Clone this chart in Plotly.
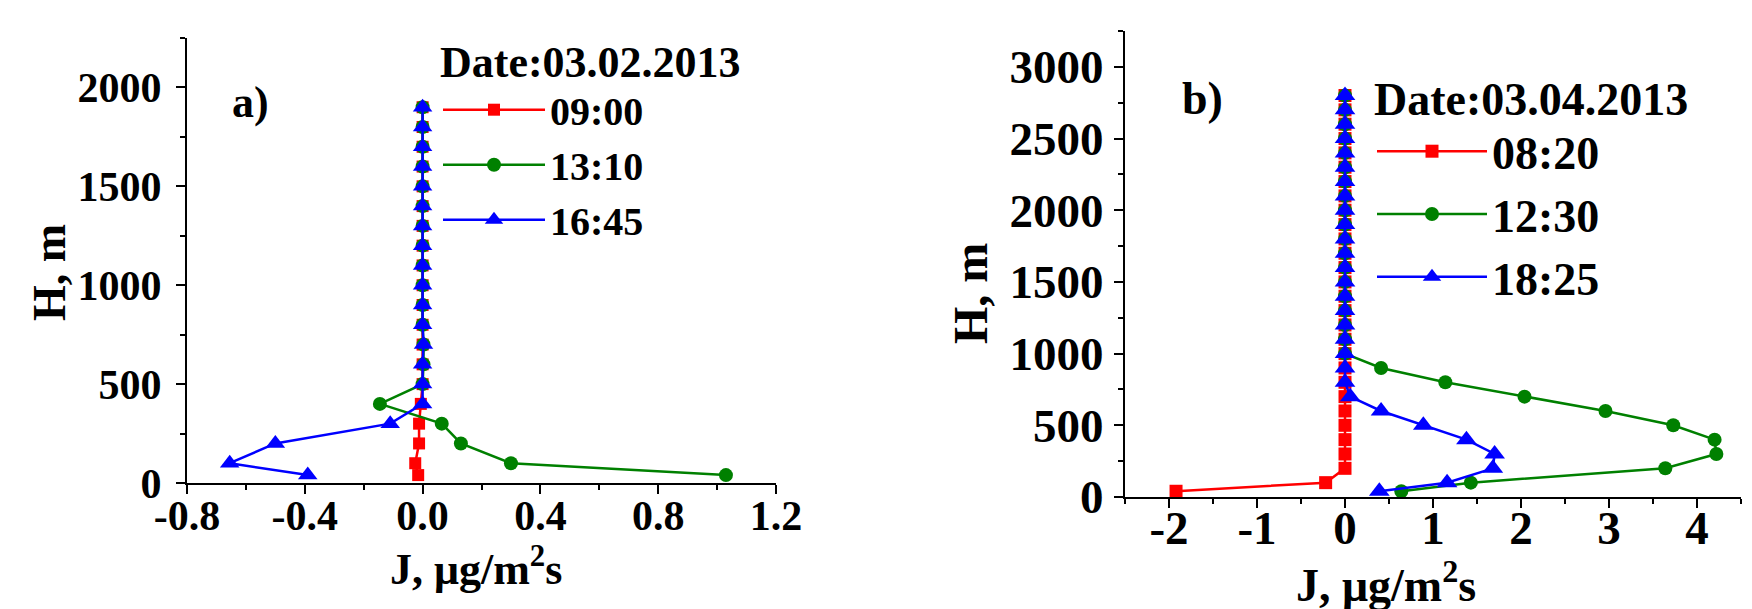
import plotly.graph_objects as go

# ---------------- data: panel a) 03.02.2013 ----------------
H_a = [40, 100, 200, 300, 400, 500, 600, 700, 800, 900, 1000,
       1100, 1200, 1300, 1400, 1500, 1600, 1700, 1800, 1900]
J_a_0900 = [-0.015, -0.025, -0.012, -0.012, -0.006, 0.0, 0.0, 0.0, 0.0, 0.0, 0.0,
            0.0, 0.0, 0.0, 0.0, 0.0, 0.0, 0.0, 0.0, 0.0]
J_a_1310 = [1.03, 0.30, 0.13, 0.065, -0.145, 0.0, 0.003, 0.003, 0.0, 0.0, 0.0,
            0.0, 0.0, 0.0, 0.0, 0.0, 0.0, 0.0, 0.0, 0.0]
J_a_1645 = [-0.39, -0.655, -0.50, -0.11, 0.0, 0.0, 0.0, 0.003, 0.0, 0.0, 0.0,
            0.0, 0.0, 0.0, 0.0, 0.0, 0.0, 0.0, 0.0, 0.0]

# ---------------- data: panel b) 03.04.2013 ----------------
H_b = [40, 100, 200, 300, 400, 500, 600, 700, 800, 900, 1000,
       1100, 1200, 1300, 1400, 1500, 1600, 1700, 1800, 1900, 2000,
       2100, 2200, 2300, 2400, 2500, 2600, 2700, 2800]
J_b_0820 = [-1.92, -0.22, 0.0, 0.0, 0.0, 0.0, 0.0, 0.0, 0.0, 0.0, 0.0,
            0.0, 0.0, 0.0, 0.0, 0.0, 0.0, 0.0, 0.0, 0.0, 0.0,
            0.0, 0.0, 0.0, 0.0, 0.0, 0.0, 0.0, 0.0]
J_b_1230 = [0.64, 1.43, 3.64, 4.22, 4.20, 3.73, 2.96, 2.04, 1.14, 0.41, 0.0,
            0.0, 0.0, 0.0, 0.0, 0.0, 0.0, 0.0, 0.0, 0.0, 0.0,
            0.0, 0.0, 0.0, 0.0, 0.0, 0.0, 0.0, 0.0]
J_b_1825 = [0.39, 1.16, 1.68, 1.70, 1.38, 0.89, 0.41, 0.06, 0.0, 0.0, 0.0,
            0.0, 0.0, 0.0, 0.0, 0.0, 0.0, 0.0, 0.0, 0.0, 0.0,
            0.0, 0.0, 0.0, 0.0, 0.0, 0.0, 0.0, 0.0]

# ---------------- tick labels ----------------
xa_ticks = [-0.8, -0.4, 0.0, 0.4, 0.8, 1.2]
xa_labels = ["-0.8", "-0.4", "0.0", "0.4", "0.8", "1.2"]
ya_ticks = [0, 500, 1000, 1500, 2000]
xb_ticks = [-2, -1, 0, 1, 2, 3, 4]
xb_labels = ["-2", "-1", "0", "1", "2", "3", "4"]
yb_ticks = [0, 500, 1000, 1500, 2000, 2500, 3000]

RED, GREEN, BLUE = "#ff0000", "#008000", "#0000ff"
FONT = "Liberation Serif"

W, Hpx = 1752, 609

fig = go.Figure()

def add(x, y, name, color, symbol, size, xa, ya, legend):
    fig.add_trace(go.Scatter(
        x=x, y=y, name=name, mode="lines+markers",
        line=dict(color=color, width=2.5),
        marker=dict(color=color, symbol=symbol, size=size),
        xaxis=xa, yaxis=ya, legend=legend))

add(J_a_0900, H_a, "09:00", RED, "square", 12, "x", "y", "legend")
add(J_a_1310, H_a, "13:10", GREEN, "circle", 14, "x", "y", "legend")
add(J_a_1645, H_a, "16:45", BLUE, "triangle-up", 17, "x", "y", "legend")
add(J_b_0820, H_b, "08:20", RED, "square", 13, "x2", "y2", "legend2")
add(J_b_1230, H_b, "12:30", GREEN, "circle", 14, "x2", "y2", "legend2")
add(J_b_1825, H_b, "18:25", BLUE, "triangle-up", 18, "x2", "y2", "legend2")

def px_x(p):
    return p / W

def px_y(p):
    return (Hpx - p) / Hpx

axis_common = dict(showline=True, linecolor="black", linewidth=2, ticks="outside",
                   ticklen=9, tickwidth=2, tickcolor="black", showgrid=False,
                   zeroline=False, mirror=False, automargin=False)

fig.update_layout(
    width=W, height=Hpx, margin=dict(l=0, r=0, t=0, b=0, autoexpand=False),
    paper_bgcolor="white", plot_bgcolor="white",
    font=dict(family=FONT, color="black", weight="bold"),
    xaxis=dict(domain=[px_x(179), px_x(768)], range=[-0.8, 1.2], anchor="y",
               tickvals=xa_ticks, ticktext=xa_labels, ticklabelstandoff=-14,
               tickfont=dict(family=FONT, size=42, weight="bold"),
               minor=dict(dtick=0.2, ticklen=5, tickwidth=2, tickcolor="black", ticks="outside"),
               **axis_common),
    yaxis=dict(domain=[px_y(475), px_y(30)], range=[0, 2250], anchor="x",
               tickvals=ya_ticks, ticklabelstandoff=6,
               tickfont=dict(family=FONT, size=42, weight="bold"),
               minor=dict(dtick=250, ticklen=5, tickwidth=2, tickcolor="black", ticks="outside"),
               **axis_common),
    xaxis2=dict(domain=[px_x(1117), px_x(1733)], range=[-2.5, 4.5], anchor="y2",
                tickvals=xb_ticks, ticktext=xb_labels, ticklabelstandoff=-20,
                tickfont=dict(family=FONT, size=47, weight="bold"),
                minor=dict(dtick=0.5, ticklen=5, tickwidth=2, tickcolor="black", ticks="outside"),
                **axis_common),
    yaxis2=dict(domain=[px_y(489), px_y(23)], range=[0, 3250], anchor="x2",
                tickvals=yb_ticks, ticklabelstandoff=1,
                tickfont=dict(family=FONT, size=47, weight="bold"),
                minor=dict(dtick=250, ticklen=5, tickwidth=2, tickcolor="black", ticks="outside"),
                **axis_common),
    legend=dict(x=px_x(430), y=px_y(12), xanchor="left", yanchor="top",
                bgcolor="rgba(0,0,0,0)", borderwidth=0, itemwidth=102,
                font=dict(family=FONT, size=40, weight="bold"),
                title=dict(text="Date:03.02.2013", side="top",
                           font=dict(family=FONT, size=44, weight="bold"))),
    legend2=dict(x=px_x(1364), y=px_y(47), xanchor="left", yanchor="top",
                 bgcolor="rgba(0,0,0,0)", borderwidth=0, itemwidth=110,
                 font=dict(family=FONT, size=46, weight="bold"),
                 title=dict(text="Date:03.04.2013", side="top",
                            font=dict(family=FONT, size=46, weight="bold"))),
)

def ann(text, cx, cy, size, angle=0):
    fig.add_annotation(text=text, x=px_x(cx), y=px_y(cy), xref="paper", yref="paper",
                       showarrow=False, textangle=angle, xanchor="center", yanchor="middle",
                       font=dict(family=FONT, size=size, weight="bold", color="black"))

ann("a)", 242, 94, 44)
ann("b)", 1194, 90, 46)
ann("H, m", 41, 265, 46, -90)
ann("H, m", 962, 286, 48, -90)
ann("J, μg/m<sup>2</sup>s", 468, 558, 44)
ann("J, μg/m<sup>2</sup>s", 1378, 574, 46)

fig.write_html("out.html")
